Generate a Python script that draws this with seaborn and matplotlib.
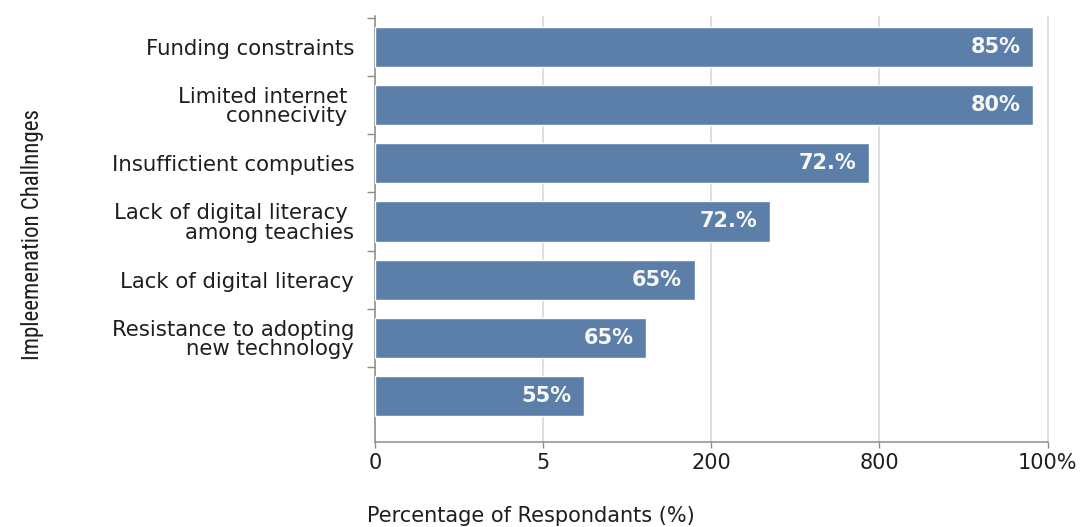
import matplotlib
matplotlib.use("Agg")
import matplotlib.pyplot as plt
import seaborn as sns
from matplotlib import font_manager

# ---- data ----
categories = [
    "Funding constraints",
    "Limited internet \nconnecivity ",
    "Insuffictient computies",
    "Lack of digital literacy \namong teachies",
    "Lack of digital literacy",
    "Resistance to adopting\nnew technology",
    "",
]
bar_lengths = [97.8, 97.8, 73.4, 58.7, 47.5, 40.3, 31.1]
bar_labels = ["85%", "80%", "72.%", "72.%", "65%", "65%", "55%"]
x_tick_pos = [0, 25, 50, 75, 100]
x_tick_labels = ["0", "5", "200", "800", "100%"]
x_title = "Percentage of Respondants (%)"
y_title = "Impleemenation Challnnges"

sns.set_theme(style="white")
plt.rcParams["font.family"] = ["DejaVu Sans"]

names = {f.name for f in font_manager.fontManager.ttflist}
narrow = None
for cand in ["Liberation Sans Narrow", "Roboto Condensed", "Open Sans Condensed",
             "Noto Sans Condensed", "DejaVu Sans Condensed"]:
    if cand in names:
        narrow = cand
        break
if narrow is None:
    narrow = "Liberation Sans"

BAR = "#5b7fa8"
TXT = "#1e1e1e"
GRID = "#d6d6d6"
SPINE = "#8c8c8c"

fig = plt.figure(figsize=(10.81, 5.27), dpi=100)
ax = fig.add_axes([375 / 1081, 1 - 442 / 527, 676 / 1081, 426 / 527])

sns.barplot(x=bar_lengths, y=categories, orient="h", color=BAR, width=0.69,
            saturation=1, ax=ax, zorder=3)

ax.set_xlim(0, 100.5)
ax.set_ylim(6.79, -0.53)
ax.set_xticks(x_tick_pos)
ax.set_xticklabels(x_tick_labels, fontsize=15, color=TXT)
ax.xaxis.grid(True, color=GRID, linewidth=1.1, zorder=0)
ax.yaxis.grid(False)

# y tick labels at bar centers, small tick marks between bars
ax.tick_params(axis="y", which="major", length=0, pad=15, labelsize=15.3,
               labelcolor=TXT)
for t in ax.get_yticklabels():
    t.set_linespacing(0.95)
ax.set_yticks([i - 0.5 for i in range(len(categories))], minor=True)
ax.tick_params(axis="y", which="minor", length=6, width=1, color=SPINE, left=True)
ax.tick_params(axis="x", which="major", length=4, width=1, color=SPINE,
               bottom=True, pad=4)

for s in ["top", "right"]:
    ax.spines[s].set_visible(False)
for s in ["left", "bottom"]:
    ax.spines[s].set_color(SPINE)
    ax.spines[s].set_linewidth(1.1)
ax.spines["bottom"].set_bounds(0, 100)

texts = ax.bar_label(ax.containers[0], labels=bar_labels, padding=-9,
                     color="#f7f7f7", fontsize=15, fontweight="bold")
for t in texts:
    t.set_ha("right")

ax.set_xlabel(x_title, fontsize=15, color=TXT, loc="left")
ax.xaxis.set_label_coords(-0.012, -0.15)
ax.set_ylabel(y_title, fontsize=16.5, color=TXT, family=[narrow, "DejaVu Sans"])
ax.yaxis.set_label_coords(-0.49, 0.486)

fig.savefig("out.png", dpi=100, facecolor="white")
